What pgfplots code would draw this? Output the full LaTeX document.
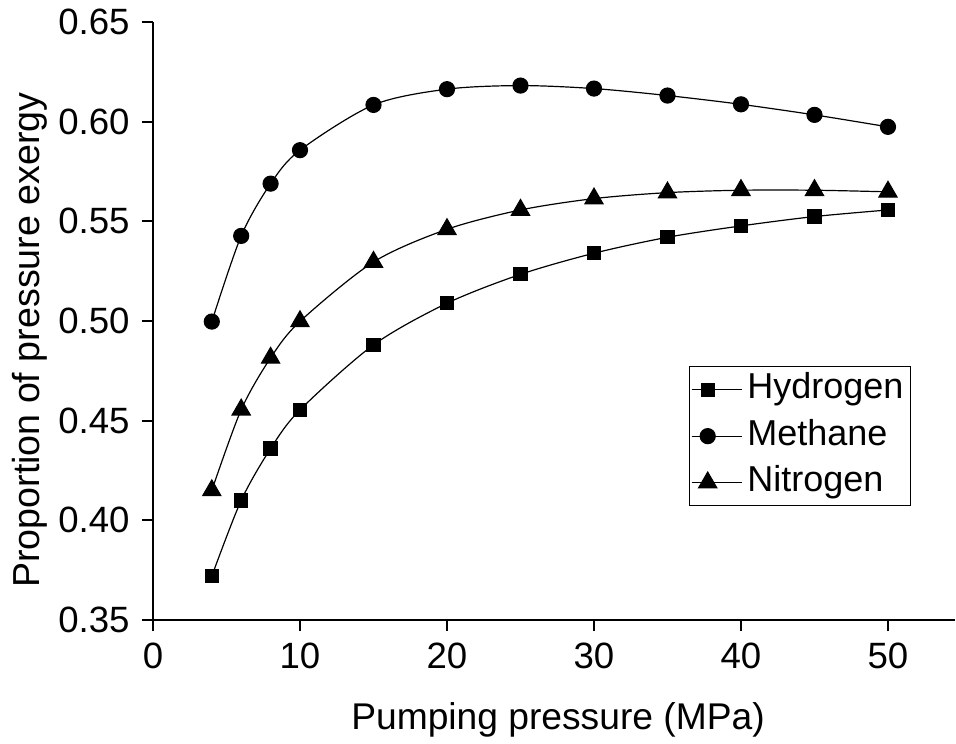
\documentclass[border=0pt]{standalone}
\usepackage{fontspec}
\setmainfont{Liberation Sans}
\usepackage{pgfplots}
\pgfplotsset{compat=1.18}
\begin{document}
\fontsize{18}{21.6}\selectfont
\begin{tikzpicture}
\begin{axis}[name=ax, scale only axis, width=401pt, height=299pt,
 xmin=0, xmax=54.56, ymin=0.35, ymax=0.65,
 axis lines=left, axis line style={-, line width=1pt},
 tick align=outside, major tick length=5.5pt, tick style={line width=1pt, black},
 xtick={0,10,20,30,40,50}, ytick={0.35,0.4,0.45,0.5,0.55,0.6,0.65},
 /pgf/number format/assume math mode=true,
 yticklabel style={/pgf/number format/.cd, fixed, fixed zerofill, precision=2},
 tick label style={font=\fontsize{18.3}{21.6}\selectfont},
 xlabel={Pumping pressure (MPa)}, ylabel={Proportion of pressure exergy},
 xlabel style={font=\fontsize{18.6}{21.6}\selectfont, at={(axis description cs:0.505,-0.1839)}, anchor=base, inner sep=0pt},
 ylabel style={font=\fontsize{18.8}{21.6}\selectfont, at={(axis description cs:-0.1758,0.468)}, anchor=north, inner sep=0pt, rotate=0},
 every axis plot/.append style={black, line width=0.6pt, smooth},
 legend image code/.code={\draw[#1, mark repeat=2, mark phase=2] plot coordinates {(0pt,0pt) (8pt,0pt) (25pt,0pt)};},
 legend style={at={(axis cs:51.56,0.4774)}, anchor=north east, draw=black, line width=0.5pt,
   font=\fontsize{18}{21.6}\selectfont, inner xsep=1pt, inner ysep=0pt, row sep=0pt,
   nodes={text height=13pt, text depth=4pt, inner ysep=3.1pt, inner xsep=2.5pt}},
 legend cell align=left,
]
\addplot[mark=square*, mark size=3.25pt, mark options={solid, fill=black}] coordinates {
(4,0.372)(6,0.410)(8,0.436)(10,0.4554)(15,0.488)(20,0.5089)(25,0.5234)(30,0.534)(35,0.542)(40,0.5477)(45,0.5524)(50,0.5557)};
\addlegendentry{Hydrogen}
\addplot[mark=*, mark size=3.75pt, mark options={solid, fill=black}] coordinates {
(4,0.4997)(6,0.5427)(8,0.5689)(10,0.5857)(15,0.6084)(20,0.6163)(25,0.6181)(30,0.6166)(35,0.6131)(40,0.6087)(45,0.6034)(50,0.5974)};
\addlegendentry{Methane}
\addplot[mark=triangle*, mark size=5.2pt, mark options={solid, fill=black}] coordinates {
(4,0.4150)(6,0.4555)(8,0.4815)(10,0.4998)(15,0.5296)(20,0.5460)(25,0.5557)(30,0.5614)(35,0.5644)(40,0.5656)(45,0.5656)(50,0.5648)};
\addlegendentry{Nitrogen}
\end{axis}
\pgfresetboundingbox
\path ([shift={(-76.5pt,-61.5pt)}]ax.south west) rectangle ([shift={(0.5pt,11pt)}]ax.north east);
\end{tikzpicture}
\end{document}
